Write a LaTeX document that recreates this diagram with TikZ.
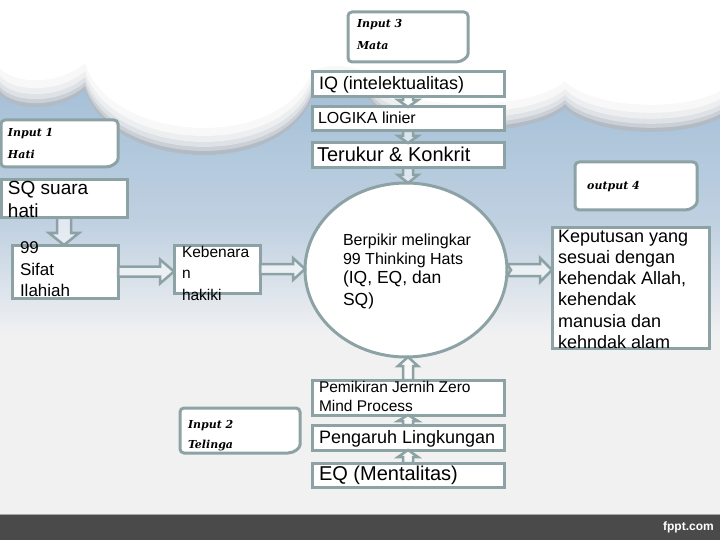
\documentclass[tikz,border=0pt]{standalone}
\usepackage{fontspec}
\newfontfamily\arial{Liberation Sans}
\newfontfamily\scrf{DejaVu Serif}
\usetikzlibrary{calc,shapes.geometric}
\definecolor{bord}{RGB}{141,162,165}
\definecolor{sky}{RGB}{160,189,214}
\definecolor{sky2}{RGB}{192,209,225}
\definecolor{pale}{RGB}{241,241,242}
\definecolor{barc}{RGB}{74,74,74}
\definecolor{cla}{RGB}{178,187,196}
\definecolor{clb}{RGB}{203,208,214}
\definecolor{clc}{RGB}{222,225,229}
\definecolor{cld}{RGB}{236,238,240}
\definecolor{cle}{RGB}{248,248,248}
\newcommand\fsz[2]{\fontsize{#1}{#2}\selectfont}
\tikzset{
 bx/.style={draw=bord, line width=3pt, fill=white, inner sep=0pt, outer sep=0pt, anchor=north west, rectangle},
 ib/.style={inner sep=0pt, outer sep=0pt, anchor=north west, rectangle},
 ibox/.style={draw=bord, line width=3pt, fill=white, line join=round},
 barr/.style={draw=bord, line width=2.5pt, fill=white, fill opacity=0.55, line join=miter},
 tx/.style={anchor=north west, inner sep=0pt, outer sep=0pt, align=left, text=black},
 scr/.style={tx, font=\scrf\bfseries\itshape\fsz{11}{22}},
}
% hollow block arrows between named anchors
\newcommand\arrdown[5]{\draw[barr] let \p1=(#1), \p2=(#2) in
  ({\x1-#3pt},\y1) -- ({\x1-#3pt},{\y2+#5pt}) -- ({\x1-#4pt},{\y2+#5pt}) -- (\x1,\y2) -- ({\x1+#4pt},{\y2+#5pt}) -- ({\x1+#3pt},{\y2+#5pt}) -- ({\x1+#3pt},\y1) -- cycle;}
\newcommand\arrup[5]{\draw[barr] let \p1=(#1), \p2=(#2) in
  ({\x1-#3pt},\y1) -- ({\x1-#3pt},{\y2-#5pt}) -- ({\x1-#4pt},{\y2-#5pt}) -- (\x1,\y2) -- ({\x1+#4pt},{\y2-#5pt}) -- ({\x1+#3pt},{\y2-#5pt}) -- ({\x1+#3pt},\y1) -- cycle;}
\newcommand\arrright[6]{\draw[barr] let \p1=(#1), \p2=(#2) in
  (\x1,{\y1+#3pt}) -- ({\x2-#5pt},{\y1+#3pt}) -- ({\x2-#5pt},{\y1+#4pt}) -- (\x2,\y1) -- ({\x2-#5pt},{\y1-#4pt}) -- ({\x2-#5pt},{\y1-#3pt}) -- (\x1,{\y1-#3pt}) -- ({\x1+#6pt},\y1) -- cycle;}
\newcommand\inbox[1]{\filldraw[ibox] (#1.south west) [rounded corners=4pt] -- (#1.north west) -- (#1.north east) -- ([yshift=12pt]#1.south east) [sharp corners] arc[start angle=0,end angle=-90,radius=12pt] [rounded corners=4pt] -- cycle;}
\def\cloudpath{(0,-40) -- (0,95) .. controls (15,112) and (60,112) .. (85,90) .. controls (110,170) and (280,180) .. (312,98) .. controls (330,90) and (350,92) .. (370,100) .. controls (390,140) and (530,140) .. (565,108) .. controls (590,135) and (680,140) .. (720,118) -- (720,-40) -- cycle}
\begin{document}
\begin{tikzpicture}[x=1pt,y=-1pt]
\useasboundingbox (0,0) rectangle (720,540);
% background
\fill[pale] (0,0) rectangle (720,540);
\fill[white] (0,0) rectangle (720,60);
\shade[top color=sky, bottom color=sky2] (0,60) rectangle (720,225);
\shade[top color=sky2, bottom color=pale] (0,225) rectangle (720,335);
% cloud with shaded rim
\fill[cla] \cloudpath;
\begin{scope}[yshift=4pt]\fill[clb] \cloudpath;\end{scope}
\begin{scope}[yshift=8pt]\fill[clc] \cloudpath;\end{scope}
\begin{scope}[yshift=13pt]\fill[cld] \cloudpath;\end{scope}
\begin{scope}[yshift=19pt]\fill[cle] \cloudpath;\end{scope}
\begin{scope}[yshift=27pt]\fill[white] \cloudpath;\end{scope}
% bottom bar
\fill[barc] (0,514) rectangle (720,540);
\draw[gray!70, line width=1pt] (0,514) -- (720,514);
\node[anchor=east, inner sep=0pt, text=white, font=\arial\bfseries\fsz{12}{14}] (brand) at (714,527) {fppt.com};

% input boxes (rounded)
\node[ib, minimum width=120pt, minimum height=50pt] (in3) at (348,12) {};
\inbox{in3}
\node[ib, minimum width=117pt, minimum height=47pt] (in1) at (1,120) {};
\inbox{in1}
\node[ib, minimum width=120pt, minimum height=45pt] (in2) at (180,408) {};
\inbox{in2}
\node[ib, minimum width=122pt, minimum height=48pt] (out4) at (575,162) {};
\inbox{out4}

% rectangles
\node[bx, minimum width=192pt, minimum height=25pt] (iq) at (312,72) {};
\node[bx, minimum width=192pt, minimum height=24pt] (logika) at (312,107) {};
\node[bx, minimum width=192pt, minimum height=25pt] (terukur) at (312,143) {};
\node[bx, minimum width=126pt, minimum height=38pt] (sq) at (1,180) {};
\node[bx, minimum width=106pt, minimum height=53pt] (b99) at (12,245) {};
\node[bx, minimum width=86pt, minimum height=48pt] (keb) at (174,245) {};
\node[bx, minimum width=157pt, minimum height=120pt] (kep) at (552,228) {};
\node[bx, minimum width=192pt, minimum height=35pt] (pem) at (312,380) {};
\node[bx, minimum width=192pt, minimum height=25pt] (peng) at (312,425) {};
\node[bx, minimum width=192pt, minimum height=24pt] (eq) at (312,463) {};
\node[ellipse, draw=bord, line width=3pt, fill=white, minimum width=202pt, minimum height=174pt, inner sep=0pt, outer sep=0pt] (circ) at (406,270) {};

% arrows
\arrdown{iq.south}{logika.north}{5}{10}{7}
\arrdown{logika.south}{terukur.north}{5}{10}{7}
\arrdown{terukur.south}{circ.north}{5}{10}{8}
\arrdown{sq.south}{b99.north}{7}{15}{12}
\arrright{b99.east}{keb.west}{5}{12}{14}{0}
\arrright{keb.east}{circ.west}{5}{11}{12}{0}
\arrright{circ.east}{kep.west}{6}{12}{12}{4}
\arrup{pem.north}{circ.south}{5}{10}{9}
\arrup{peng.north}{pem.south}{5}{10}{6}
\arrup{eq.north}{peng.south}{5}{10}{7}

% texts
\node[scr] (t-in3) at (357,19) {Input 3\\Mata};
\node[scr] (t-in1) at (8,128) {Input 1\\Hati};
\node[scr, font=\scrf\bfseries\itshape\fsz{11}{20}] (t-in2) at (188,420) {Input 2\\Telinga};
\node[anchor=base west, inner sep=0pt, font=\scrf\bfseries\itshape\fsz{11}{20}] (t-out4) at (587,190) {output 4};
\node[tx, font=\arial\fsz{18}{21}] (t-iq) at (319,76) {IQ (intelektualitas)};
\node[tx, font=\arial\fsz{16}{19}] (t-logika) at (318,112.3) {LOGIKA linier};
\node[tx, font=\arial\fsz{20}{23}] (t-terukur) at (317,147.4) {Terukur \& Konkrit};
\node[tx, font=\arial\fsz{19}{23}] (t-sq) at (8,181) {SQ suara\\hati};
\node[tx, font=\arial\fsz{17}{21.5}] (t-99) at (20,242) {99\\Sifat\\Ilahiah};
\node[tx, font=\arial\fsz{15.5}{21.5}] (t-keb) at (182,246) {Kebenara\\n\\hakiki};
\node[tx, font=\arial\fsz{16}{18.5}] (t-c1) at (343,234.3) {Berpikir melingkar\\99 Thinking Hats};
\node[tx, font=\arial\fsz{17.5}{22}] (t-c2) at (343,271.2) {(IQ, EQ, dan\\SQ)};
\node[tx, font=\arial\fsz{18}{21.2}] (t-kep) at (558,230) {Keputusan yang\\sesuai dengan\\kehendak Allah,\\kehendak\\manusia dan\\kehndak alam};
\node[tx, font=\arial\fsz{15.5}{19}] (t-pem) at (319,381.7) {Pemikiran Jernih Zero\\Mind Process};
\node[tx, font=\arial\fsz{18}{21}] (t-peng) at (319,430.9) {Pengaruh Lingkungan};
\node[tx, font=\arial\fsz{20}{23}] (t-eq) at (319,466.4) {EQ (Mentalitas)};
\end{tikzpicture}
\end{document}
